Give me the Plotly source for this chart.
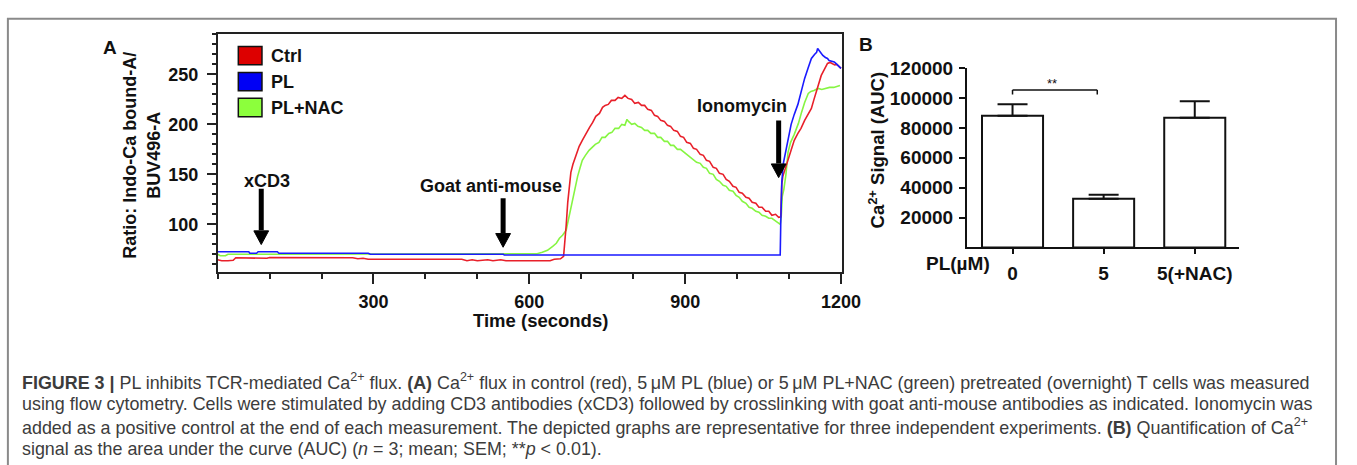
import plotly.graph_objects as go

W, H = 1357, 465

# ---------------- Panel A data ----------------
ctrl_t = [0, 8, 20, 30, 35, 60, 90, 95, 100, 150, 200, 260, 270, 280, 290, 350, 420, 470, 480, 490,
          500, 520, 530, 545, 555, 600, 640, 648, 660, 666, 669, 671, 674, 677, 680, 684, 687, 692, 696, 702,
          709, 716, 722, 728, 735, 741, 746, 752, 758, 765, 771, 778, 784, 790, 797, 803, 810, 816, 822, 828,
          835, 841, 847, 853, 860, 866, 872, 878, 885, 891, 897, 903, 910, 916, 922, 929, 935, 941, 947, 954,
          960, 966, 973, 979, 985, 992, 998, 1004, 1010, 1017, 1023, 1029, 1036, 1042, 1048, 1055, 1061, 1067, 1074, 1080,
          1084, 1086, 1088, 1092, 1098, 1104, 1110, 1117, 1123, 1130, 1136, 1143, 1148, 1153, 1158, 1162, 1168, 1174, 1179, 1183,
          1188, 1192, 1196, 1200]
ctrl_v = [64.5, 63.5, 63.5, 64, 66.5, 66.5, 66.5, 66, 66.8, 66.5, 66.3, 66.5, 65.5, 66, 65, 65, 65, 65, 63.5, 64.5,
          63.5, 64.5, 63.5, 64.5, 63.5, 63.5, 63.5, 65, 65.5, 68, 85, 99, 122, 140, 152, 160, 165, 172, 178, 184,
          191, 197, 202, 208, 211, 217, 219, 220, 224, 224, 227, 226, 229, 226, 225, 221, 222, 219, 219, 215,
          214, 209, 208, 204, 203, 199, 198, 194, 193, 188, 187, 182, 181, 176, 175, 170, 169, 164, 163, 157,
          156, 151, 150, 145, 143, 138, 137, 132, 131, 127, 126, 122, 121, 117, 117, 113, 113, 109, 110, 107,
          107.5, 140, 148, 155, 165, 176, 184, 191, 196, 204, 210, 216, 225, 233, 241, 249, 255, 261, 262, 261,
          259.5, 260, 258, 256]

pl_t = [0, 60, 62, 75, 78, 115, 118, 200, 290, 294, 400, 500, 550, 552, 700, 800, 900, 1000, 1083, 1084,
        1086, 1089, 1094, 1098, 1104, 1110, 1117, 1124, 1130, 1137, 1143, 1149, 1153, 1155, 1158, 1161, 1165, 1170, 1174, 1177,
        1182, 1187, 1190, 1193, 1196, 1200]
pl_v = [72.5, 72.5, 71, 71, 72.5, 72.5, 71, 71, 71, 70, 70, 70, 70, 69.2, 69.2, 69.2, 69.2, 69.2, 69.2, 100,
        142, 161, 175, 187, 200, 210, 220, 234, 246, 257, 266, 270, 272, 276, 274, 272, 269, 267, 266, 264,
        263, 262.5, 261, 259, 258, 256]

nac_t = [0, 5, 15, 20, 100, 200, 300, 400, 500, 540, 560, 600, 615, 625, 635, 645, 652, 658, 664, 671,
         677, 684, 689, 693, 698, 702, 708, 715, 721, 727, 734, 740, 746, 753, 759, 765, 772, 778, 784, 788,
         791, 797, 803, 809, 816, 822, 828, 834, 841, 847, 853, 860, 866, 872, 878, 885, 891, 897, 903, 910,
         916, 922, 929, 935, 941, 947, 954, 960, 966, 973, 979, 985, 992, 998, 1004, 1010, 1017, 1023, 1029, 1036,
         1042, 1048, 1055, 1061, 1067, 1074, 1080, 1083, 1085, 1087, 1090, 1094, 1098, 1103, 1110, 1118, 1124, 1130, 1137, 1142,
         1148, 1156, 1163, 1170, 1178, 1186, 1193, 1198]
nac_v = [70, 68.5, 68.5, 70, 70, 70, 70, 70, 70, 70.5, 70, 70, 70.5, 72, 74, 78, 81, 86, 89, 94,
         109, 125, 138, 148, 157, 164, 169, 174, 177, 180, 182, 187, 187, 191, 192, 196, 196, 200, 199, 205,
         203, 200, 201, 198, 197, 194, 194, 191, 191, 187, 187, 183, 183, 179, 179, 175, 175, 172.5, 170, 167,
         165, 162, 161, 157, 156, 151, 150, 145, 143, 139, 138, 134, 133, 129, 127, 123, 121, 117, 116, 113,
         112, 109, 108, 106, 106, 103, 101, 100, 108, 128, 135, 150, 172, 182, 190, 201, 212, 222, 231, 233,
         234, 236, 235, 236, 237, 237, 238, 239]

series_names = ["Ctrl", "PL", "PL+NAC"]
line_colors = ["#e8202a", "#1a1aff", "#86f542"]
box_colors = ["#dd0000", "#0000f5", "#8cff3c"]

a_xticks = [300, 600, 900, 1200]
a_yticks = [100, 150, 200, 250]

# stimulus annotations: label, arrow time, label time, label level, arrow tail level, arrow tip level
stim_labels = ["xCD3", "Goat anti-mouse", "Ionomycin"]
stim_arrow_t = [84, 549.6, 1080]
stim_label_t = [95, 526, 1009]
stim_label_y = [143.4, 138.5, 218.6]
stim_tail_y = [135.6, 126, 204]
stim_tip_y = [79.7, 77, 146.7]

# ---------------- Panel B data ----------------
pl_labels = ["0", "5", "5(+NAC)"]
auc_mean = [88000, 32500, 86800]
auc_sem = [7800, 2800, 10900]
b_yticks = [20000, 40000, 60000, 80000, 100000, 120000]

BOLD = "Liberation Sans, Arial, sans-serif"
INK = "#111"

fig = go.Figure()
order = [2, 0, 1]
all_t = [ctrl_t, pl_t, nac_t]
all_v = [ctrl_v, pl_v, nac_v]
for i in order:
    fig.add_trace(go.Scatter(x=all_t[i], y=all_v[i], mode="lines", name=series_names[i],
                             line=dict(color=line_colors[i], width=1.6),
                             xaxis="x", yaxis="y", showlegend=False))

fig.add_trace(go.Bar(x=pl_labels, y=auc_mean, width=0.67, xaxis="x2", yaxis="y2",
                     marker=dict(color="white", line=dict(color=INK, width=2)),
                     error_y=dict(type="data", symmetric=False, array=auc_sem,
                                  arrayminus=[0, 0, 0], color=INK, thickness=2, width=15),
                     showlegend=False))


def px(x):
    return x / W


def py(y):
    return 1 - y / H


a_font = dict(family=BOLD, size=18, color=INK, weight="bold")
b_font = dict(family=BOLD, size=19, color=INK, weight="bold")

A_X = [220.7, 854]
A_Y = [268, 25]
A_XR = [0, 1202]
A_YR = [52, 290]

fig.update_layout(
    width=W, height=H, autosize=False,
    margin=dict(l=0, r=0, t=0, b=0),
    paper_bgcolor="white", plot_bgcolor="white",
    xaxis=dict(domain=[px(A_X[0]), px(A_X[1])], range=A_XR, tickvals=a_xticks,
               ticks="outside", ticklen=10, tickwidth=1.5, tickcolor="#222",
               showline=True, mirror=True, linecolor="#222", linewidth=1.5,
               showgrid=False, zeroline=False, tickfont=a_font, ticklabelstandoff=2,
               minor=dict(dtick=100, tick0=0, ticks="outside", ticklen=5, tickwidth=1.5, tickcolor="#222")),
    yaxis=dict(domain=[py(A_Y[0]), py(A_Y[1])], range=A_YR, tickvals=a_yticks,
               ticks="outside", ticklen=9, tickwidth=1.5, tickcolor="#222",
               showline=True, mirror=True, linecolor="#222", linewidth=1.5,
               showgrid=False, zeroline=False, tickfont=a_font, ticklabelstandoff=5,
               minor=dict(dtick=10, tick0=0, ticks="outside", ticklen=4, tickwidth=1.5, tickcolor="#222")),
    xaxis2=dict(domain=[px(980.7), px(1257)], range=[-0.5, 2.49], type="category",
                ticks="outside", ticklen=5, tickwidth=2, tickcolor=INK,
                showline=True, linecolor=INK, linewidth=2, showgrid=False, zeroline=False,
                tickfont=b_font, ticklabelstandoff=3, anchor="y2"),
    yaxis2=dict(domain=[py(242.7), py(59.3)], range=[0, 120000], tickvals=b_yticks, tickformat="d",
                ticks="outside", ticklen=6, tickwidth=2, tickcolor=INK,
                showline=True, linecolor=INK, linewidth=2, showgrid=False, zeroline=False,
                tickfont=b_font, ticklabelstandoff=2, anchor="x2"),
)

shapes = []
ann = []

# outer frame (bottom edge below the view)
shapes.append(dict(type="rect", xref="paper", yref="paper", x0=px(8), x1=px(1355), y0=-0.2, y1=py(9),
                   line=dict(color="#8a8a8a", width=2), fillcolor="rgba(0,0,0,0)", layer="below"))

# legend boxes for panel A
for i, (n, c) in enumerate(zip(series_names, box_colors)):
    y0 = 37.3 + i * 26.5
    shapes.append(dict(type="rect", xref="paper", yref="paper", x0=px(241.7), x1=px(265.7),
                       y0=py(y0 + 18.7), y1=py(y0), fillcolor=c, line=dict(color=INK, width=1.5)))
    ann.append(dict(xref="paper", yref="paper", x=px(273), y=py(y0 + 9.5), text="<b>%s</b>" % n,
                    showarrow=False, xanchor="left", yanchor="middle",
                    font=dict(family=BOLD, size=18, color=INK)))

# arrows (shaft + triangular head) drawn in the panel-A data space
sx = (A_XR[1] - A_XR[0]) / (A_X[1] - A_X[0])      # seconds per pixel
sy = (A_YR[1] - A_YR[0]) / (A_Y[0] - A_Y[1])      # ratio units per pixel
head_half_w = 7.5 * sx
head_len = 14 * sy
for xa, yt, yh in zip(stim_arrow_t, stim_tail_y, stim_tip_y):
    yb = yh + head_len
    shapes.append(dict(type="line", xref="x", yref="y", x0=xa, x1=xa, y0=yt, y1=yb + 0.5,
                       line=dict(color="#000", width=5)))
    shapes.append(dict(type="path", xref="x", yref="y",
                       path="M %.3f,%.3f L %.3f,%.3f L %.3f,%.3f Z" % (xa - head_half_w, yb, xa + head_half_w, yb, xa, yh),
                       fillcolor="#000", line=dict(color="#000", width=1)))
for txt, xl, yl in zip(stim_labels, stim_label_t, stim_label_y):
    ann.append(dict(xref="x", yref="y", x=xl, y=yl, text="<b>%s</b>" % txt, showarrow=False,
                    xanchor="center", yanchor="middle", font=dict(family=BOLD, size=18, color=INK)))

# axis titles panel A
ann.append(dict(xref="paper", yref="paper", x=px(548), y=py(317.5), text="<b>Time (seconds)</b>",
                showarrow=False, xanchor="center", yanchor="middle", font=dict(family=BOLD, size=18.5, color=INK)))
ann.append(dict(xref="paper", yref="paper", x=px(144), y=py(148),
                text="<b>Ratio: Indo-Ca bound-A/<br>BUV496-A</b>", textangle=-90,
                showarrow=False, xanchor="center", yanchor="middle",
                font=dict(family=BOLD, size=18, color=INK)))

# panel letters
ann.append(dict(xref="paper", yref="paper", x=px(112), y=py(38.5), text="<b>A</b>", showarrow=False,
                xanchor="center", yanchor="middle", font=dict(family=BOLD, size=19, color=INK)))
ann.append(dict(xref="paper", yref="paper", x=px(878), y=py(35), text="<b>B</b>", showarrow=False,
                xanchor="center", yanchor="middle", font=dict(family=BOLD, size=19, color=INK)))

# panel B titles
ann.append(dict(xref="paper", yref="paper", x=px(889), y=py(143), text="<b>Ca<sup>2+</sup> Signal (AUC)</b>",
                textangle=-90, showarrow=False, xanchor="center", yanchor="middle",
                font=dict(family=BOLD, size=18.5, color=INK)))
ann.append(dict(xref="paper", yref="paper", x=px(971.7), y=py(259.5), text="<b>PL(µM)</b>",
                showarrow=False, xanchor="center", yanchor="middle", font=dict(family=BOLD, size=19, color=INK)))

# significance bracket
br_y, br_end = 105300, 102300
shapes.append(dict(type="line", xref="x2", yref="y2", x0=0, x1=0.93, y0=br_y, y1=br_y, line=dict(color=INK, width=1.5)))
shapes.append(dict(type="line", xref="x2", yref="y2", x0=0, x1=0, y0=br_y, y1=br_end, line=dict(color=INK, width=1.5)))
shapes.append(dict(type="line", xref="x2", yref="y2", x0=0.93, x1=0.93, y0=br_y, y1=br_end, line=dict(color=INK, width=1.5)))
ann.append(dict(xref="x2", yref="y2", x=0.43, y=109600, text="**", showarrow=False,
                xanchor="center", yanchor="middle", font=dict(family=BOLD, size=13, color=INK)))

# caption
cap_font = dict(family="Liberation Sans Narrow, Liberation Sans, Arial, sans-serif", size=17.9, color="#3c3c3c")
cap_lines = [
    "<b>FIGURE 3 |</b> PL inhibits TCR-mediated Ca<sup>2+</sup> flux. <b>(A)</b> Ca<sup>2+</sup> flux in control (red), 5\u2009\u03bcM PL (blue) or 5\u2009\u03bcM PL+NAC (green) pretreated (overnight) T cells was measured",
    "using flow cytometry. Cells were stimulated by adding CD3 antibodies (xCD3) followed by crosslinking with goat anti-mouse antibodies as indicated. Ionomycin was",
    "added as a positive control at the end of each measurement. The depicted graphs are representative for three independent experiments. <b>(B)</b> Quantification of Ca<sup>2+</sup>",
    "signal as the area under the curve (AUC) (<i>n</i> = 3; mean; SEM; **<i>p</i> &lt; 0.01).",
]
for i, line in enumerate(cap_lines):
    ann.append(dict(xref="paper", yref="paper", x=px(20), y=py(380 + i * 23), text=line, showarrow=False,
                    xanchor="left", yanchor="middle", font=cap_font))

fig.update_layout(shapes=shapes, annotations=ann)

pin = ("var gd=document.getElementById('{plot_id}');"
       "document.body.style.margin='0';document.body.style.overflow='hidden';"
       "gd.style.position='absolute';gd.style.left='0px';gd.style.top='0px';")
fig.write_html("out.html", post_script=pin, config={"displayModeBar": False})
